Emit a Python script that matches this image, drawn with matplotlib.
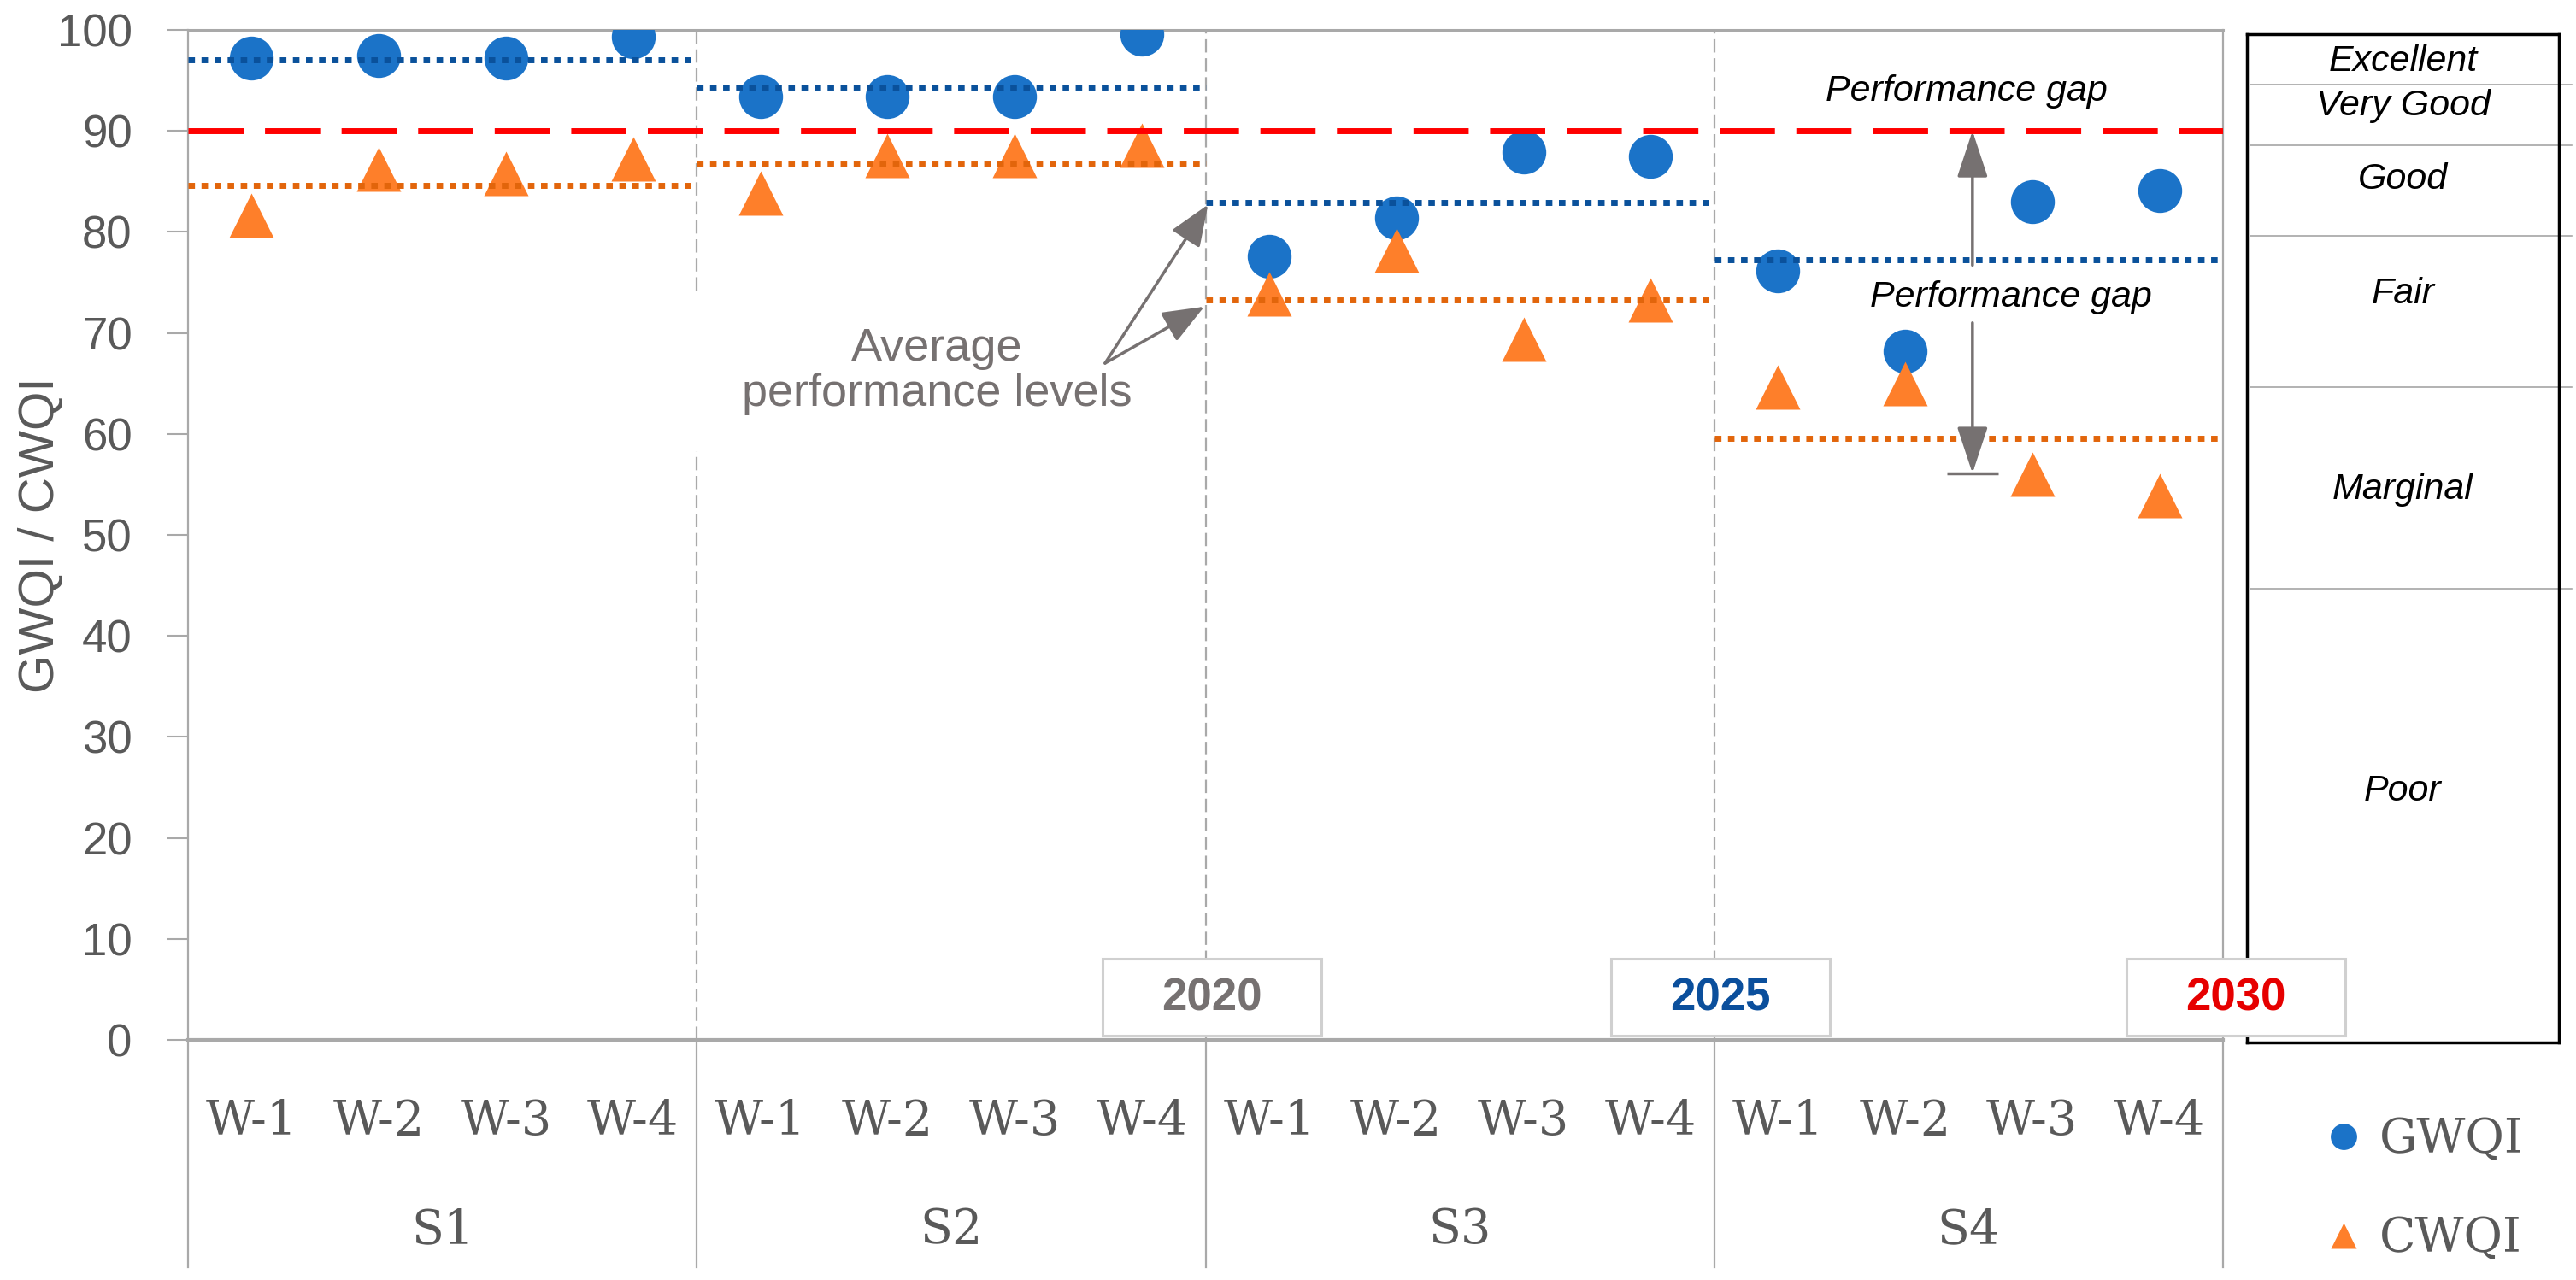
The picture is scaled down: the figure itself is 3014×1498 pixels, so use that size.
import numpy as np
import matplotlib
matplotlib.use('Agg')
import matplotlib.pyplot as plt
from matplotlib.patches import Rectangle

plt.rcParams['font.family'] = ['Liberation Sans', 'DejaVu Sans']

# data
sites = ['S1', 'S2', 'S3', 'S4']
wells = ['W-1', 'W-2', 'W-3', 'W-4']
gwqi = [97.2, 97.5, 97.2, 99.3, 93.4, 93.4, 93.4, 99.6,
        77.6, 81.4, 87.9, 87.5, 76.1, 68.2, 83.0, 84.1]
cwqi = [81.6, 86.2, 85.8, 87.2, 83.8, 87.6, 87.6, 88.6,
        73.9, 78.2, 69.4, 73.3, 64.6, 65.0, 56.0, 53.9]
gwqi_avg = [97.0, 94.3, 82.9, 77.2]
cwqi_avg = [84.6, 86.7, 73.3, 59.6]
target = 90
years = ['2020', '2025', '2030']
year_colors = ['#767171', '#0B4F9C', '#E60000']
classes = ['Excellent', 'Very Good', 'Good', 'Fair', 'Marginal', 'Poor']
class_bounds = [95, 89, 80, 65, 45]
class_label_y = [97.3, 92.9, 85.6, 74.2, 54.8, 24.9]

blue = '#1B73C8'
orange = '#FE7F2A'
grey = '#767171'
linegrey = '#A9A9A9'
textgrey = '#595959'

W, H = 3014, 1498
fig = plt.figure(figsize=(W / 100, H / 100), dpi=100)
ax = fig.add_axes([220 / W, 1 - 1217 / H, (2601 - 220) / W, (1217 - 35) / H])
ax.set_zorder(2)

n = len(sites) * len(wells)
x = np.arange(n)
edges = np.arange(len(sites) + 1) * len(wells) - 0.5
ax.set_xlim(edges[0], edges[-1])
ax.set_ylim(0, 100)

# group dividers (dashed in the plot, solid below the axis)
for e in edges[1:-1]:
    if e == edges[1]:
        segs = [(0, 58.3), (74.2, 100)]
    else:
        segs = [(0, 100)]
    for y0, y1 in segs:
        ax.plot([e, e], [y0, y1], color=linegrey, lw=1.6, ls=(0, (7, 3)), zorder=1)
for e in edges:
    ax.plot([e, e], [-0.225, 0], color=linegrey, lw=1.6,
            transform=ax.get_xaxis_transform(), clip_on=False)

l1, = ax.plot(x, gwqi, 'o', ms=37, color=blue, mec='none', zorder=3)
l2, = ax.plot(x, cwqi, '^', ms=37, color=orange, mec='none', zorder=4)

for i in range(len(sites)):
    ax.plot([edges[i], edges[i + 1]], [gwqi_avg[i]] * 2, color='#0A519B', lw=5,
            ls=(0, (1.1, 1.1)), zorder=5)
    ax.plot([edges[i], edges[i + 1]], [cwqi_avg[i]] * 2, color='#E2650B', lw=5,
            ls=(0, (1.1, 1.1)), zorder=5)

ax.axhline(target, color='#FF0000', lw=5, ls=(0, (9.3, 3.6)), zorder=6)

# spines / ticks
for s in ['top', 'left', 'right']:
    ax.spines[s].set_color(linegrey)
    ax.spines[s].set_linewidth(1.6)
ax.spines['top'].set_linewidth(2.2)
ax.spines['bottom'].set_color(linegrey)
ax.spines['bottom'].set_linewidth(3)
ax.set_yticks(range(0, 101, 10))
ax.tick_params(axis='y', length=18, width=1.5, color=linegrey, pad=29,
               labelsize=38, labelcolor=textgrey)
ax.set_xticks(x, [wells[i % len(wells)] for i in x])
ax.tick_params(axis='x', length=0, pad=49, labelsize=40, labelcolor=textgrey,
               labelfontfamily='DejaVu Serif')
for i, s in enumerate(sites):
    ax.text((edges[i] + edges[i + 1]) / 2, -0.1887, s, transform=ax.get_xaxis_transform(),
            ha='center', va='center', fontsize=40, family='DejaVu Serif', color=textgrey)

ax.set_ylabel('GWQI / CWQI', fontsize=42, color=textgrey, va='center')
ax.yaxis.set_label_coords(-0.0722, 0.5)

# year boxes on the group boundaries
for i, yr in enumerate(years):
    c = edges[i + 2] + [0.05, 0.05, 0.1][i]
    ax.add_patch(Rectangle((c - 0.86, 0.4), 1.72, 7.6, facecolor='white',
                           edgecolor='#D0D0D0', lw=2.2, clip_on=False, zorder=7))
    ax.text(c, 4.1, yr, ha='center', va='center', fontsize=38, fontweight='bold',
            color=year_colors[i], zorder=8, clip_on=False)

# annotations
avg_arrow = dict(arrowstyle='-|>,head_length=1.0,head_width=0.4', mutation_scale=30,
                 color=grey, lw=2.5, shrinkA=0, shrinkB=0)
ax.annotate('', xy=(7.52, 82.7), xytext=(6.71, 67.0), arrowprops=avg_arrow, zorder=8)
ax.annotate('', xy=(7.49, 72.6), xytext=(6.71, 67.0), arrowprops=avg_arrow, zorder=8)
ax.text(5.39, 66.2, 'Average\nperformance levels', ha='center', va='center',
        fontsize=39, color=grey, linespacing=1.1)

gap_arrow = dict(arrowstyle='-|>,head_length=1.0,head_width=0.33', mutation_scale=34,
                 color=grey, lw=2.5, shrinkA=0, shrinkB=0)
ax.annotate('', xy=(13.53, target), xytext=(13.53, 76.7), arrowprops=gap_arrow, zorder=5)
ax.annotate('', xy=(13.53, 56.1), xytext=(13.53, 71.0), arrowprops=gap_arrow, zorder=5)
ax.plot(13.53, 56.1, marker='_', ms=43, mew=2.5, color=grey, zorder=5)
ax.text(13.48, 93.9, 'Performance gap', style='italic', fontsize=31,
        ha='center', va='center', color='black')
ax.text(13.83, 73.5, 'Performance gap', style='italic', fontsize=31,
        ha='center', va='center', color='black')

# class table on the right
tax = fig.add_axes([2629 / W, 1 - 1220 / H, (2994 - 2629) / W, (1220 - 40) / H])
tax.set_zorder(1)
tax.set_xlim(0, 1)
tax.set_ylim(0, 100)
tax.set_xticks([])
tax.set_yticks([])
for s in tax.spines.values():
    s.set_color('black')
    s.set_linewidth(2.5)
for b in class_bounds:
    tax.plot([0.01, 1.04], [b, b], color='#A6A6A6', lw=1.2, clip_on=False)
for name, yy in zip(classes, class_label_y):
    tax.text(0.5, yy, name, style='italic', fontsize=31, ha='center', va='center')

fig.legend(handles=[l1, l2], labels=['GWQI', 'CWQI'], loc='center left',
           bbox_to_anchor=(2714 / W, 1 - 1392 / H), frameon=False, markerscale=0.6,
           handlelength=1.0, handletextpad=0.25, labelspacing=1.1, borderpad=0,
           borderaxespad=0, prop=dict(family='DejaVu Serif', size=40), labelcolor=textgrey)

fig.savefig('out.png', dpi=100)
